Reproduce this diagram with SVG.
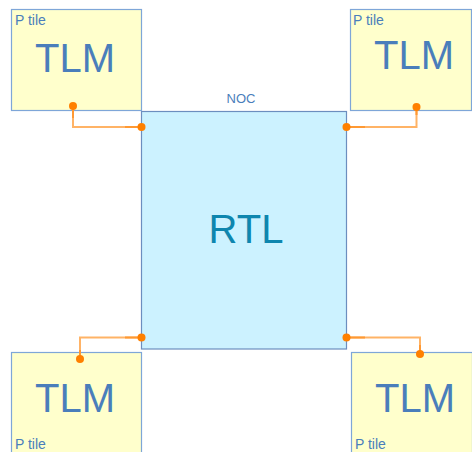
<svg xmlns="http://www.w3.org/2000/svg" width="472" height="452" viewBox="0 0 472 452">
<style>
.tile{fill:#FFFFCC;stroke:#7EA6D8;stroke-width:1.2}
.noc{fill:#CCF2FF;stroke:#6C8EBF;stroke-width:1.2}
.big{font-family:"Liberation Sans",Arial,sans-serif;font-size:40px;fill:#4A7EBB;text-anchor:middle}
.rtl{font-family:"Liberation Sans",Arial,sans-serif;font-size:40px;fill:#0E86AE;text-anchor:middle}
.small{font-family:"Liberation Sans",Arial,sans-serif;font-size:13px;fill:#4A7EBB}
.ptile{font-family:"Liberation Sans",Arial,sans-serif;font-size:14px;fill:#4A7EBB}
.wire{fill:none;stroke:#FFB366;stroke-width:2}
.wired{fill:none;stroke:#FF9933;stroke-width:2}
.dot{fill:#FF8000}
</style>
<g id="noc">
<rect class="noc" x="141.5" y="111.5" width="205" height="237.5"/>
<text class="small" x="241" y="102.5" text-anchor="middle">NOC</text>
<text class="rtl" x="246" y="243">RTL</text>
</g>
<g id="tile-tl">
<rect class="tile" x="11.5" y="9.5" width="130" height="101"/>
<text class="ptile" x="15" y="24.5">P tile</text>
<text class="big" x="75" y="72">TLM</text>
</g>
<g id="tile-tr">
<rect class="tile" x="350.5" y="9.5" width="121" height="101"/>
<text class="ptile" x="353" y="24.5">P tile</text>
<text class="big" x="414" y="69">TLM</text>
</g>
<g id="tile-bl">
<rect class="tile" x="11.5" y="352.5" width="130" height="110"/>
<text class="big" x="75" y="412">TLM</text>
<text class="ptile" x="15" y="448.5">P tile</text>
</g>
<g id="tile-br">
<rect class="tile" x="351.5" y="352.5" width="121" height="110"/>
<text class="big" x="415" y="412">TLM</text>
<text class="ptile" x="355" y="448.5">P tile</text>
</g>
<g id="connectors">
<path class="wire" d="M73 106 V127 H141.5"/>
<path class="wired" d="M73 106 V118 M125 127 H141.5"/>
<path class="wire" d="M416.5 107 V127 H346.5"/>
<path class="wired" d="M416.5 107 V115 M346.5 127 H365"/>
<path class="wire" d="M80 359 V337.5 H141.5"/>
<path class="wired" d="M80 359 V350 M125 337.5 H141.5"/>
<path class="wire" d="M420 354 V337.5 H346.5"/>
<path class="wired" d="M420 354 V345 M346.5 337.5 H365"/>
<circle class="dot" cx="73" cy="106" r="4"/>
<circle class="dot" cx="141.5" cy="127" r="4"/>
<circle class="dot" cx="416.5" cy="107" r="4"/>
<circle class="dot" cx="346.5" cy="127" r="4"/>
<circle class="dot" cx="80" cy="359" r="4"/>
<circle class="dot" cx="141.5" cy="337.5" r="4"/>
<circle class="dot" cx="420" cy="354" r="4"/>
<circle class="dot" cx="346.5" cy="337.5" r="4"/>
</g>
</svg>
